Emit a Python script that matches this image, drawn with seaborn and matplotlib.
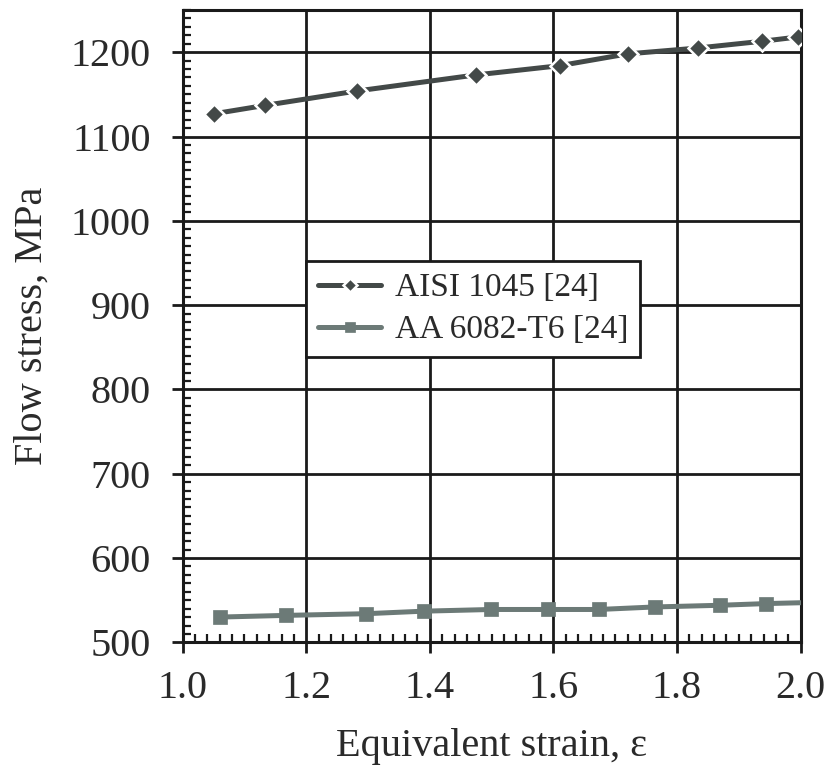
import matplotlib
matplotlib.use("Agg")
import matplotlib.pyplot as plt
from matplotlib.ticker import MultipleLocator
import seaborn as sns
import pandas as pd

aisi_strain = [1.051, 1.134, 1.282, 1.474, 1.610, 1.720, 1.834, 1.938, 1.995]
aisi_stress = [1127, 1137, 1154, 1173, 1184, 1198, 1205, 1213, 1218]
aa_strain = [1.060, 1.167, 1.297, 1.390, 1.499, 1.591, 1.673, 1.764, 1.870, 1.944, 2.0]
aa_stress = [530, 532, 534, 537, 539, 539, 539, 542, 544, 546, 547]
aisi_label = "AISI 1045 [24]"
aa_label = "AA 6082-T6 [24]"
xticks = [1.0, 1.2, 1.4, 1.6, 1.8, 2.0]
yticks = [500, 600, 700, 800, 900, 1000, 1100, 1200]

sns.set_theme(style="white")
plt.rcParams['font.family'] = ['Liberation Serif', 'DejaVu Serif']

fig = plt.figure(figsize=(8.34, 7.73), dpi=100)
ax = fig.add_axes([0.219, 0.169, 0.741, 0.818])

df_aisi = pd.DataFrame({"strain": aisi_strain, "stress": aisi_stress})
df_aa = pd.DataFrame({"strain": aa_strain, "stress": aa_stress})

c_aisi = "#434948"
c_aa = "#6c7a77"
sns.lineplot(data=df_aisi, x="strain", y="stress", ax=ax, color=c_aisi,
             marker="D", markersize=10, markeredgecolor="white", markeredgewidth=1.8,
             linewidth=3.6, label=aisi_label, zorder=5)
sns.lineplot(data=df_aa, x="strain", y="stress", ax=ax, color=c_aa,
             marker="s", markersize=10, markeredgecolor=c_aa, markeredgewidth=0.5,
             linewidth=3.6, label=aa_label, markevery=list(range(len(aa_strain) - 1)), zorder=5)

ax.set_xlim(1.0, 2.0)
ax.set_ylim(500, 1250)
ax.set_xticks(xticks)
ax.set_yticks(yticks)
ax.set_xticklabels([f"{v:.1f}" for v in xticks])
ax.set_yticklabels([str(v) for v in yticks])
ax.xaxis.set_minor_locator(MultipleLocator(0.02))
ax.yaxis.set_minor_locator(MultipleLocator(10))
ax.grid(True, which="major", color="#1a1a1a", linewidth=2)
ax.tick_params(axis="both", which="major", direction="out", length=8, width=2,
               color="#1a1a1a", labelsize=29, colors="#2a2a2a")
ax.tick_params(axis="y", which="major", pad=15)
ax.tick_params(axis="x", which="major", pad=12)
ax.tick_params(axis="both", which="minor", direction="in", length=6, width=1.6,
               color="#1a1a1a", bottom=True, left=True)
ax.tick_params(axis="both", which="major", bottom=True, left=True)
for s in ax.spines.values():
    s.set_color("#1a1a1a")
    s.set_linewidth(2.2)
    s.set_visible(True)

ax.set_xlabel("Equivalent strain, ε", fontsize=29, color="#2a2a2a", labelpad=15)
ax.set_ylabel("Flow stress, MPa", fontsize=29, color="#2a2a2a", labelpad=14)

leg = ax.legend(loc="center", bbox_to_anchor=(0.47, 0.527), fontsize=24, frameon=True,
                fancybox=False, edgecolor="#1a1a1a", framealpha=1, handlelength=1.9,
                borderpad=0.35, labelspacing=0.35, handletextpad=0.4, borderaxespad=0)
leg.get_frame().set_linewidth(2)
for t in leg.get_texts():
    t.set_color("#2a2a2a")
for h in leg.legend_handles:
    h.set_markersize(7)

fig.savefig("out.png", dpi=100)
